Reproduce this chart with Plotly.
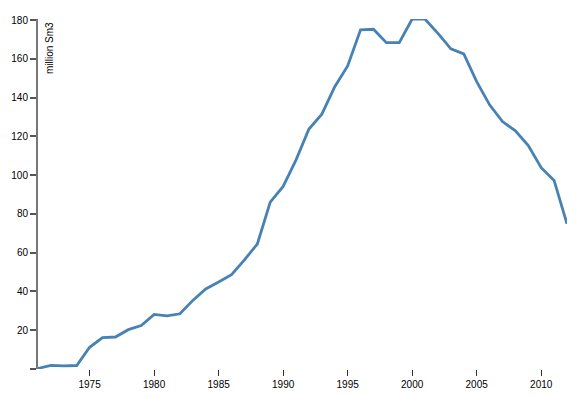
import plotly.graph_objects as go

years = list(range(1971, 2013))
production = [0.3, 1.9, 1.6, 1.8, 11.2, 16.2, 16.5, 20.3, 22.4, 28.2,
              27.4, 28.5, 35.4, 41.3, 44.9, 48.7, 56.3, 64.5, 86.1, 94.2,
              107.9, 123.8, 131.5, 145.7, 156.4, 175.0, 175.3, 168.4, 168.4, 180.6,
              180.5, 173.2, 165.2, 162.6, 148.3, 136.3, 127.7, 122.9, 115.3, 103.9,
              97.3, 74.9]
y_tickvals = [0, 20, 40, 60, 80, 100, 120, 140, 160, 180]
y_ticktext = ["", "20", "40", "60", "80", "100", "120", "140", "160", "180"]
x_tickvals = [1975, 1980, 1985, 1990, 1995, 2000, 2005, 2010]

fig = go.Figure()
fig.add_trace(go.Scatter(x=years, y=production, mode="lines",
                         line=dict(color="#4682b4", width=2.8),
                         hoverinfo="x+y"))

fig.update_layout(
    width=576, height=389,
    margin=dict(l=30, r=17, t=11, b=28, autoexpand=False),
    paper_bgcolor="white", plot_bgcolor="white",
    showlegend=False,
    font=dict(family="Liberation Sans, Arial, sans-serif", size=10, color="black"),
    xaxis=dict(range=[1971, 2012], showgrid=False, zeroline=False, showline=False,
               automargin=False,
               tickvals=x_tickvals, ticks="outside", ticklen=6, tickwidth=1,
               tickcolor="#333", tickfont=dict(size=10)),
    yaxis=dict(range=[0, max(production)], showgrid=False, zeroline=False,
               automargin=False,
               showline=True, linecolor="#777", linewidth=2,
               tickvals=y_tickvals, ticktext=y_ticktext, ticks="outside",
               ticklen=6, tickwidth=2, tickcolor="#555", tickfont=dict(size=10)),
    annotations=[dict(text="million Sm3", textangle=-90, xref="paper", yref="paper",
                      x=0, y=1, xanchor="center", yanchor="top", xshift=11, yshift=-1,
                      showarrow=False, font=dict(size=10, color="black"))],
)

fig.write_html("out.html")
